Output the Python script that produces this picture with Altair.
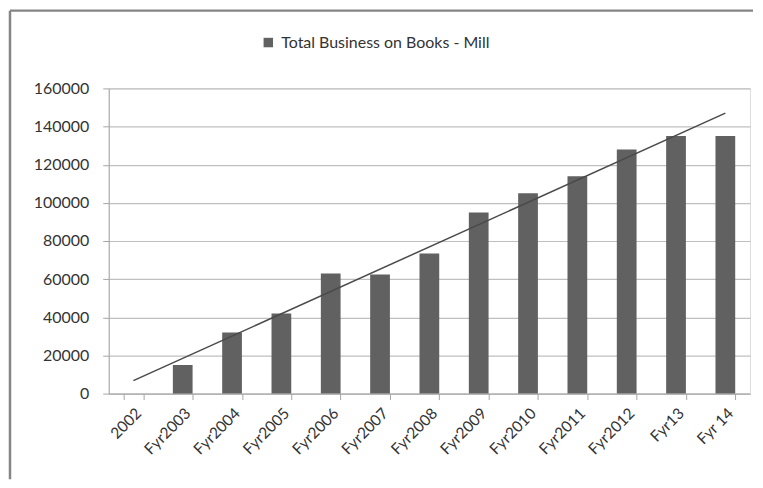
import altair as alt
import pandas as pd

categories = ["2002", "Fyr2003", "Fyr2004", "Fyr2005", "Fyr2006", "Fyr2007",
              "Fyr2008", "Fyr2009", "Fyr2010", "Fyr2011", "Fyr2012", "Fyr13", "Fyr 14"]
values = [0, 15000, 32000, 42000, 63000, 62500, 73500, 95000, 105000,
          114000, 128000, 135000, 135000]
series_name = "Total Business on Books - Mill"
y_ticks = [0, 20000, 40000, 60000, 80000, 100000, 120000, 140000, 160000]

df = pd.DataFrame({
    "category": categories,
    "value": values,
    "idx": list(range(1, len(categories) + 1)),
    "series": [series_name] * len(categories),
})
lookup_df = pd.DataFrame({"idx": list(range(1, len(categories) + 1)), "category": categories})

FONT = "Lato"
AXIS_GRAY = "#a6a6a6"
TEXT = "#333333"

x_enc = alt.X(
    "category:N", sort=categories, title=None,
    scale=alt.Scale(paddingInner=0.6, paddingOuter=0.3),
    axis=alt.Axis(labelAngle=-45, tickBand="extent", labelFontSize=15.5, labelFont=FONT,
                  labelColor=TEXT, domainColor=AXIS_GRAY, tickColor=AXIS_GRAY,
                  tickSize=6, labelPadding=6, grid=False, labelOverlap=False),
)
y_enc = alt.Y(
    "value:Q", title=None,
    scale=alt.Scale(domain=[0, 160000]),
    axis=alt.Axis(values=y_ticks, format="d", labelFontSize=16, labelFont=FONT,
                  labelColor=TEXT, domainColor=AXIS_GRAY, tickColor=AXIS_GRAY,
                  tickSize=6, labelPadding=14, gridColor="#bfbfbf", gridWidth=1.2,
                  labelOverlap=False),
)

base = alt.Chart(df)

bars = base.mark_bar(color="#616161").encode(
    x=x_enc,
    y=y_enc,
    color=alt.Color("series:N", scale=alt.Scale(range=["#616161"]),
                    legend=alt.Legend(title=None, orient="none", legendX=152, legendY=-54,
                                      symbolType="square", symbolSize=90,
                                      symbolStrokeWidth=0, labelFontSize=16,
                                      labelFont=FONT, labelColor=TEXT, labelOffset=5,
                                      labelLimit=0)),
)

trend = base.transform_regression(
    "idx", "value", method="linear", as_=["idx", "value"]
).transform_lookup(
    lookup="idx", from_=alt.LookupData(data=lookup_df, key="idx", fields=["category"])
).mark_line(color="#4a4a4a", strokeWidth=1.5).encode(
    x=x_enc,
    y=y_enc,
)

left_border = alt.Chart(pd.DataFrame({"a": [0]})).mark_rule(color="#858585", strokeWidth=2.5).encode(
    x=alt.value(-99), y=alt.value(-78), y2=alt.value(392)
)
top_border = alt.Chart(pd.DataFrame({"a": [0]})).mark_rule(color="#858585", strokeWidth=2.5).encode(
    x=alt.value(-99), x2=alt.value(646), y=alt.value(-78)
)

chart = alt.layer(bars, trend, left_border, top_border).properties(
    width=643, height=306,
    padding={"left": 0, "top": 0, "right": 0, "bottom": 0},
).configure_view(stroke="transparent", strokeWidth=0).configure(background="white")

chart.save("out.html", embed_options={"renderer": "svg", "actions": False})
